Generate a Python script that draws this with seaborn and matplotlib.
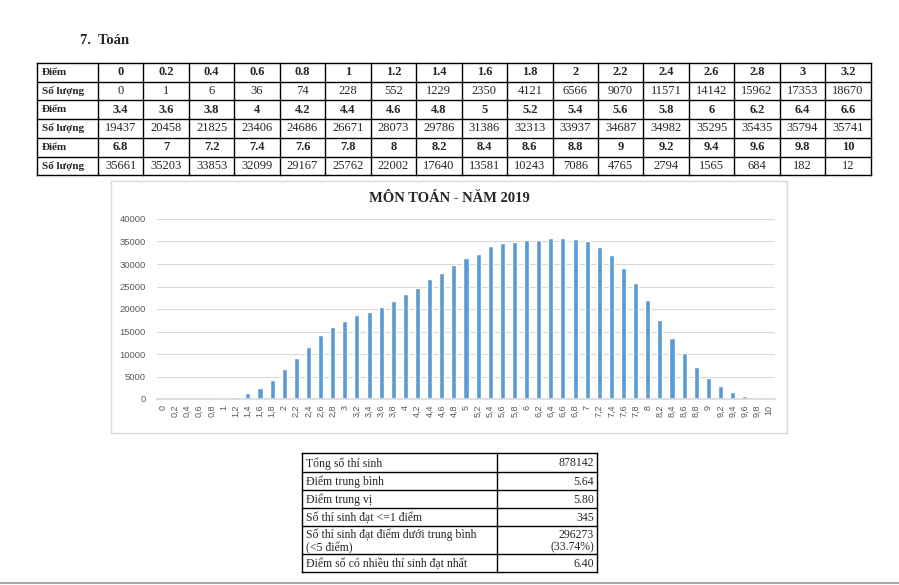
import matplotlib
matplotlib.use("Agg")
import matplotlib.pyplot as plt
import seaborn as sns
import pandas as pd
from matplotlib.patches import Rectangle

# --- DATA ---
SCORES = [0, 0.2, 0.4, 0.6, 0.8, 1, 1.2, 1.4, 1.6, 1.8, 2, 2.2, 2.4, 2.6, 2.8, 3, 3.2,
          3.4, 3.6, 3.8, 4, 4.2, 4.4, 4.6, 4.8, 5, 5.2, 5.4, 5.6, 5.8, 6, 6.2, 6.4, 6.6,
          6.8, 7, 7.2, 7.4, 7.6, 7.8, 8, 8.2, 8.4, 8.6, 8.8, 9, 9.2, 9.4, 9.6, 9.8, 10]
COUNTS = [0, 1, 6, 36, 74, 228, 552, 1229, 2350, 4121, 6566, 9070, 11571, 14142, 15962, 17353, 18670,
          19437, 20458, 21825, 23406, 24686, 26671, 28073, 29786, 31386, 32313, 33937, 34687, 34982, 35295, 35435, 35794, 35741,
          35661, 35203, 33853, 32099, 29167, 25762, 22002, 17640, 13581, 10243, 7086, 4765, 2794, 1565, 684, 182, 12]

STAT_LABELS = ["Tổng số thí sinh", "Điểm trung bình", "Điểm trung vị", "Số thí sinh đạt <=1 điểm",
               "Số thí sinh đạt điểm dưới trung bình\n(<5 điểm)", "Điểm số có nhiều thí sinh đạt nhất"]
STAT_VALUES = ["878142", "5.64", "5.80", "345", "296273\n(33.74%)", "6.40"]

SECTION_TITLE = "7.  Toán"
CHART_TITLE = "MÔN TOÁN - NĂM 2019"

W, H = 899, 585
SERIF = ["Liberation Serif", "DejaVu Serif"]
BAR_COLOR = "#5B9BD5"

sns.set_theme(style="white")
plt.rcParams['font.family'] = ["Liberation Sans", "DejaVu Sans"]

fig = plt.figure(figsize=(W / 100, H / 100), dpi=100)
bg = fig.add_axes([0, 0, 1, 1])
bg.set_xlim(0, W)
bg.set_ylim(H, 0)
bg.axis("off")


def grid_lines(ax, xs, ys, lw=1.0, color="black"):
    for y in ys:
        ax.plot([xs[0], xs[-1]], [y, y], color=color, lw=lw, solid_capstyle="projecting")
    for x in xs:
        ax.plot([x, x], [ys[0], ys[-1]], color=color, lw=lw, solid_capstyle="projecting")


# section heading
bg.text(80, 40, SECTION_TITLE, family=SERIF, fontweight="bold", fontsize=10.5, va="center", ha="left")

# --- top score table ---
n_per_row = 17
x_left, x_first, col_w = 37, 98, 45.45
row_top, row_h = 63, 18.7
xs = [x_left] + [x_first + i * col_w for i in range(n_per_row + 1)]
ys = [row_top + i * row_h for i in range(7)]
grid_lines(bg, xs, ys)

fmt = lambda v: f"{v:g}"
for block in range(3):
    chunk = slice(block * n_per_row, (block + 1) * n_per_row)
    y_score = (ys[2 * block] + ys[2 * block + 1]) / 2
    y_count = (ys[2 * block + 1] + ys[2 * block + 2]) / 2
    bg.text(x_left + 5, y_score, "Điểm", family=SERIF, fontweight="bold", fontsize=8, va="center")
    bg.text(x_left + 5, y_count, "Số lượng", family=SERIF, fontweight="bold", fontsize=8, va="center")
    for i, (s, c) in enumerate(zip(SCORES[chunk], COUNTS[chunk])):
        cx = x_first + (i + 0.5) * col_w
        bg.text(cx, y_score, fmt(s), family=SERIF, fontweight="bold", fontsize=9, ha="center", va="center")
        bg.text(cx, y_count, str(c), family=SERIF, fontsize=9, ha="center", va="center")

# --- chart box ---
bg.add_patch(Rectangle((111, 181), 676, 252, fill=False, edgecolor="#D9D9D9", lw=1))
bg.text(449, 198, CHART_TITLE, family=SERIF, fontweight="bold", fontsize=10.5, ha="center", va="center")

ax = fig.add_axes([157 / W, 1 - 399 / H, 618 / W, 180 / H])
df = pd.DataFrame({"score": [fmt(s).replace(".", ",") for s in SCORES], "count": COUNTS})
sns.barplot(data=df, x="score", y="count", color=BAR_COLOR, width=0.42, saturation=1, ax=ax)
ax.set_ylim(0, 40000)
ax.set_yticks(range(0, 40001, 5000))
ax.set_xlim(-0.5, len(SCORES) - 0.5)
ax.set_xlabel("")
ax.set_ylabel("")
ax.grid(axis="y", color="#D9D9D9", lw=0.8)
ax.set_axisbelow(True)
for sp in ax.spines.values():
    sp.set_visible(False)
ax.spines["bottom"].set_visible(True)
ax.spines["bottom"].set_color("#D9D9D9")
ax.tick_params(axis="y", labelsize=6.8, colors="#595959", length=0, pad=8)
ax.tick_params(axis="x", labelsize=6.5, colors="#595959", length=0, rotation=90, pad=4)
ax.patch.set_alpha(0)

# --- statistics table ---
sx = [302, 497, 597]
sy = [453, 472, 490, 508, 526, 554, 572]
grid_lines(bg, sx, sy)
for i, (lab, val) in enumerate(zip(STAT_LABELS, STAT_VALUES)):
    cy = (sy[i] + sy[i + 1]) / 2 + 1
    bg.text(sx[0] + 4, cy, lab, family=SERIF, fontsize=8.5, va="center", ha="left", linespacing=1.1)
    bg.text(sx[2] - 3, cy, val, family=SERIF, fontsize=8.5, va="center", ha="right",
            multialignment="right", linespacing=1.1)

# bottom page rule
bg.plot([0, W], [583, 583], color="#A6A6A6", lw=1.5)

fig.savefig("out.png", dpi=100)
